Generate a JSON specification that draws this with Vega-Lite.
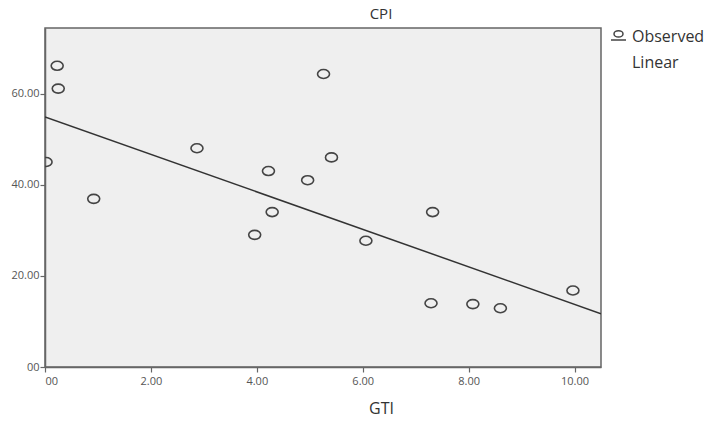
{
  "$schema": "https://vega.github.io/schema/vega-lite/v6.json",
  "width": 556,
  "height": 339,
  "autosize": {"type": "none"},
  "padding": {"left": 45, "top": 28, "right": 126, "bottom": 60},
  "background": "white",
  "title": {"text": "CPI", "font": "Open Sans", "fontSize": 15, "fontWeight": "normal", "color": "#333", "offset": 6, "dx": 58},
  "config": {
    "view": {"fill": "#efefef", "stroke": "#666", "strokeWidth": 1.5},
    "axis": {
      "grid": false,
      "labelFont": "Open Sans",
      "labelFontSize": 11,
      "labelColor": "#555",
      "domainColor": "#666",
      "domainWidth": 1.5,
      "tickColor": "#666",
      "tickWidth": 1.2,
      "tickSize": 5,
      "titleFont": "Open Sans",
      "titleFontWeight": "normal",
      "titleFontSize": 16,
      "titleColor": "#333"
    },
    "legend": {
      "labelFont": "Open Sans",
      "labelFontSize": 16,
      "labelColor": "#333"
    }
  },
  "datasets": {
    "obs": [
      {"GTI": 0.02, "CPI": 45.0},
      {"GTI": 0.23, "CPI": 66.1},
      {"GTI": 0.25, "CPI": 61.1},
      {"GTI": 0.92, "CPI": 36.9},
      {"GTI": 2.87, "CPI": 48.0},
      {"GTI": 3.96, "CPI": 29.0},
      {"GTI": 4.22, "CPI": 43.0},
      {"GTI": 4.29, "CPI": 34.0},
      {"GTI": 4.96, "CPI": 41.0},
      {"GTI": 5.26, "CPI": 64.3},
      {"GTI": 5.41, "CPI": 46.0},
      {"GTI": 6.06, "CPI": 27.7},
      {"GTI": 7.32, "CPI": 34.0},
      {"GTI": 7.29, "CPI": 14.0},
      {"GTI": 8.08, "CPI": 13.8},
      {"GTI": 8.60, "CPI": 12.9},
      {"GTI": 9.97, "CPI": 16.8}
    ],
    "fit": [
      {"GTI": 0, "CPI": 54.9},
      {"GTI": 10.5, "CPI": 11.7}
    ]
  },
  "layer": [
    {
      "data": {"name": "fit"},
      "mark": {"type": "line", "color": "#333", "strokeWidth": 1.5, "clip": true},
      "encoding": {
        "x": {"field": "GTI", "type": "quantitative"},
        "y": {"field": "CPI", "type": "quantitative"}
      }
    },
    {
      "data": {"name": "obs"},
      "mark": {"type": "point", "filled": false, "color": "#444", "strokeWidth": 1.6, "size": 144, "opacity": 0, "clip": true},
      "encoding": {
        "x": {"field": "GTI", "type": "quantitative"},
        "y": {"field": "CPI", "type": "quantitative"},
        "shape": {
          "datum": "Observed",
          "type": "nominal",
          "scale": {
            "domain": ["Observed", "Linear"],
            "range": ["M-0.6,-0.35A0.6,0.42,0,1,0,0.6,-0.35A0.6,0.42,0,1,0,-0.6,-0.35ZM-1,0.45H1", "M0,0"]
          },
          "legend": {
            "title": null,
            "orient": "right",
            "offset": 9,
            "symbolSize": 225,
            "symbolStrokeColor": "#444",
            "symbolStrokeWidth": 1.5,
            "symbolFillColor": "transparent",
            "symbolOpacity": 1,
            "labelOffset": 5,
            "rowPadding": 9,
            "padding": 0
          }
        }
      }
    },
    {
      "data": {"name": "obs"},
      "mark": {"type": "point", "filled": false, "color": "#444", "strokeWidth": 1.6, "size": 144, "opacity": 1, "clip": true, "shape": "M-1,0A1,0.75,0,1,0,1,0A1,0.75,0,1,0,-1,0Z"},
      "encoding": {
        "x": {
          "field": "GTI", "type": "quantitative",
          "scale": {"domain": [0, 10.5], "nice": false, "zero": false},
          "axis": {
            "title": "GTI",
            "values": [0, 2, 4, 6, 8, 10],
            "labelExpr": "datum.value == 0 ? '00' : format(datum.value, '.2f')",
            "labelPadding": 3,
            "titlePadding": 14,
            "titleX": 336
          }
        },
        "y": {
          "field": "CPI", "type": "quantitative",
          "scale": {"domain": [0, 74.4], "nice": false, "zero": false},
          "axis": {
            "title": null,
            "values": [0, 20, 40, 60],
            "labelExpr": "datum.value == 0 ? '00' : format(datum.value, '.2f')",
            "labelPadding": 1
          }
        }
      }
    }
  ]
}
